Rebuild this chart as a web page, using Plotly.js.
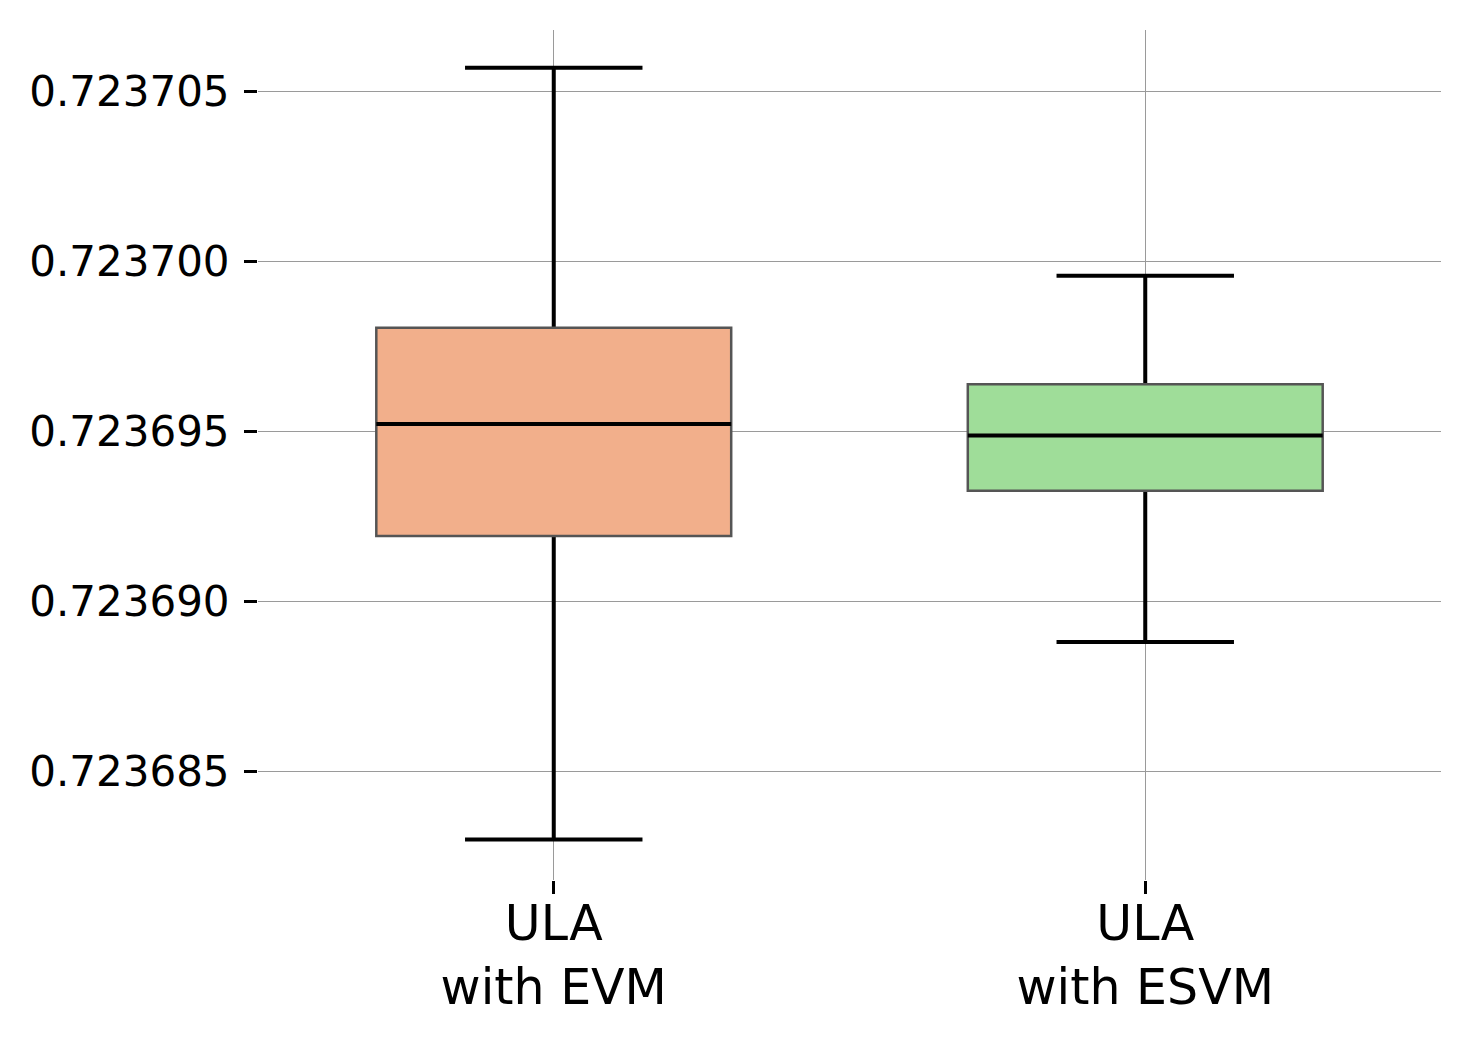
<!DOCTYPE html>
<html>
<head>
<meta charset="utf-8">
<script src="https://cdn.plot.ly/plotly-3.0.1.min.js"></script>
<style>
  html, body { margin: 0; padding: 0; background: #fff; }
  #plot { width: 1470px; height: 1041px; }
</style>
</head>
<body>
<div id="plot"></div>
<script>
// categories (tick labels)
const categories = ['ULA<br>with EVM', 'ULA<br>with ESVM'];

// box statistics
const lowerFence = [0.7236830, 0.72368881];
const q1Values   = [0.72369193, 0.72369326];
const medians    = [0.72369522, 0.72369488];
const q3Values   = [0.72369805, 0.72369639];
const upperFence = [0.7237057, 0.72369958];

const fillColors = ['#f2af8b', '#9fdd99'];
const yTicks = [0.723685, 0.72369, 0.723695, 0.7237, 0.723705];

const BOX_W = 0.6;

// whiskers: box collapsed to the median so only the whisker lines show,
// the part inside the box gets hidden by the filled box drawn on top
const whiskerTrace = {
    type: 'box',
    x: categories,
    q1: medians,
    median: medians,
    q3: medians,
    lowerfence: lowerFence,
    upperfence: upperFence,
    width: BOX_W,
    whiskerwidth: 0.5,
    fillcolor: 'rgba(0,0,0,0)',
    line: { color: '#000', width: 4 },
    hoverinfo: 'skip',
    showlegend: false
};

// filled boxes, one trace each because the colours differ
const boxTraces = categories.map((cat, i) => ({
    type: 'box',
    x: [cat],
    q1: [q1Values[i]],
    median: [medians[i]],
    q3: [q3Values[i]],
    lowerfence: [q1Values[i]],
    upperfence: [q3Values[i]],
    width: BOX_W,
    whiskerwidth: 0,
    fillcolor: fillColors[i],
    line: { color: '#555555', width: 2.5 },
    hoverinfo: 'skip',
    showlegend: false
}));

// black median line on top
const medianTrace = {
    type: 'box',
    x: categories,
    q1: medians,
    median: medians,
    q3: medians,
    lowerfence: medians,
    upperfence: medians,
    width: BOX_W,
    whiskerwidth: 0,
    fillcolor: 'rgba(0,0,0,0)',
    line: { color: '#000', width: 4 },
    hoverinfo: 'skip',
    showlegend: false
};

const layout = {
    width: 1470,
    height: 1041,
    margin: { l: 258, r: 29, t: 30, b: 161 },
    paper_bgcolor: '#fff',
    plot_bgcolor: '#fff',
    boxmode: 'overlay',
    showlegend: false,
    font: { family: 'DejaVu Sans', color: '#000' },
    xaxis: {
        type: 'category',
        categoryarray: categories,
        range: [-0.5, 1.5],
        showline: false,
        zeroline: false,
        showgrid: true,
        gridcolor: '#9a9a9a',
        gridwidth: 1,
        ticks: 'outside',
        ticklen: 13,
        tickwidth: 3,
        tickcolor: '#000',
        ticklabelstandoff: -13,
        tickfont: { size: 49, family: 'DejaVu Sans', color: '#000' }
    },
    yaxis: {
        range: [0.72368181, 0.72370681],
        tickmode: 'array',
        tickvals: yTicks,
        ticktext: yTicks.map(v => v.toFixed(6)),
        showline: false,
        zeroline: false,
        showgrid: true,
        gridcolor: '#9a9a9a',
        gridwidth: 1,
        ticks: 'outside',
        ticklen: 13,
        tickwidth: 3,
        tickcolor: '#000',
        ticklabelstandoff: 6,
        tickfont: { size: 42, family: 'DejaVu Sans', color: '#000' }
    }
};

Plotly.newPlot('plot', [whiskerTrace, ...boxTraces, medianTrace], layout, { staticPlot: true, displayModeBar: false });
</script>
</body>
</html>
